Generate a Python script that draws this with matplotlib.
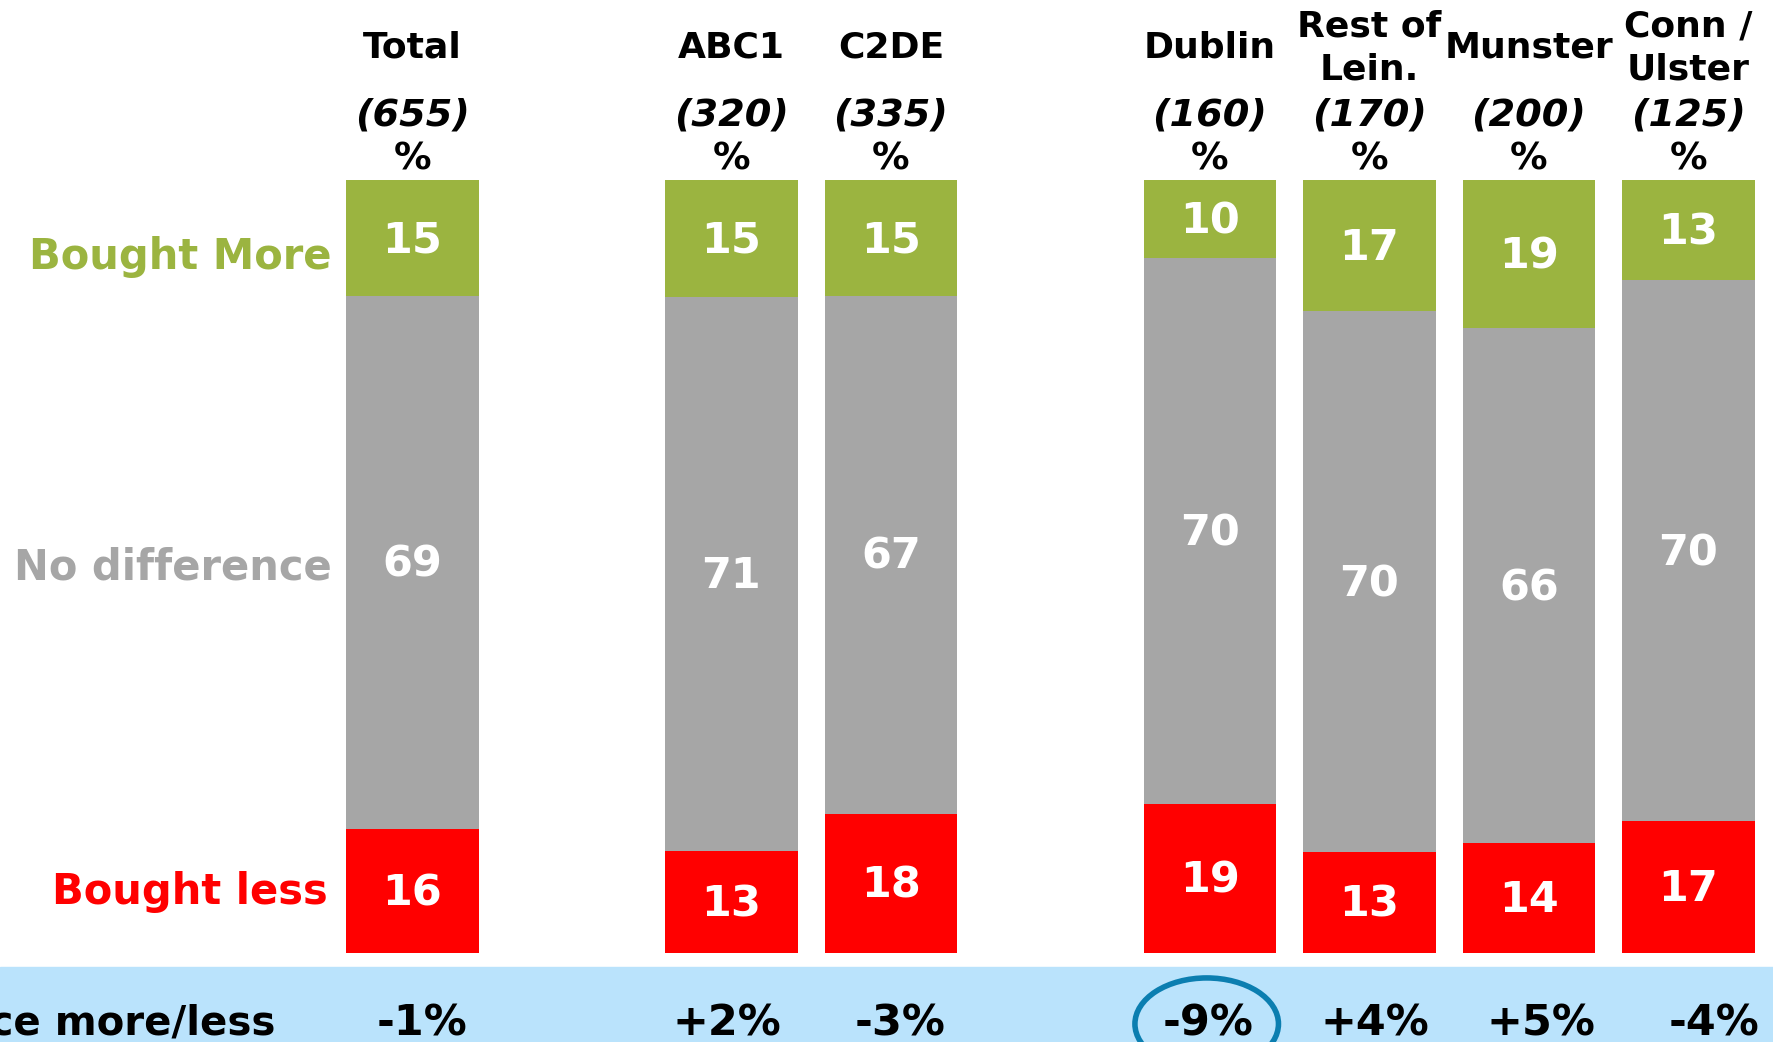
import matplotlib.pyplot as plt
from matplotlib.patches import Ellipse, Rectangle

# --- DATOS ---
grupos = ["Total", "ABC1", "C2DE", "Dublin", "Rest of\nLein.", "Munster", "Conn /\nUlster"]
bases = ["(655)", "(320)", "(335)", "(160)", "(170)", "(200)", "(125)"]
posiciones = [0, 2, 3, 5, 6, 7, 8]  # huecos entre bloques

compro_mas = [15, 15, 15, 10, 17, 19, 13]
sin_diferencia = [69, 71, 67, 70, 70, 66, 70]
compro_menos = [16, 13, 18, 19, 13, 14, 17]
neto = ["-1%", "+2%", "-3%", "-9%", "+4%", "+5%", "-4%"]
destacado = 3  # Dublin

# pequeños desplazamientos de la fila inferior (como en la diapositiva)
desplaz_neto = [0.057, -0.028, 0.057, -0.01, 0.035, 0.078, 0.163]

VERDE = "#9BB440"
GRIS = "#A6A6A6"
ROJO = "#FF0000"
AZUL_FRANJA = "#BAE3FC"
AZUL_CIRCULO = "#0B7EB0"

fig = plt.figure(figsize=(17.74, 10.42), dpi=100)
ax = fig.add_axes([0, 0, 1, 1])
ax.set_xlim(-2.586, 8.537)
ax.set_ylim(-11.57, 123.28)
ax.axis("off")

ancho = 0.83
for i, x in enumerate(posiciones):
    total = compro_mas[i] + sin_diferencia[i] + compro_menos[i]
    menos = compro_menos[i] * 100 / total
    igual = sin_diferencia[i] * 100 / total
    mas = compro_mas[i] * 100 / total
    ax.bar(x, menos, width=ancho, bottom=0, color=ROJO, edgecolor="none")
    ax.bar(x, igual, width=ancho, bottom=menos, color=GRIS, edgecolor="none")
    ax.bar(x, mas, width=ancho, bottom=menos + igual, color=VERDE, edgecolor="none")

    estilo = dict(ha="center", va="center", color="white", fontsize=31, fontweight="bold")
    ax.text(x, menos / 2 - 0.3, str(compro_menos[i]), **estilo)
    ax.text(x, menos + igual / 2 - 0.3, str(sin_diferencia[i]), **estilo)
    ax.text(x, menos + igual + mas / 2 - 0.3, str(compro_mas[i]), **estilo)

    # encabezados
    ax.text(x, 117.1, grupos[i], ha="center", va="center", fontsize=26,
            fontweight="bold", linespacing=1.35)
    ax.text(x, 108.3, bases[i], ha="center", va="center", fontsize=27.5,
            fontweight="bold", style="italic")
    ax.text(x, 102.6, "%", ha="center", va="center", fontsize=27, fontweight="bold")

# etiquetas a la izquierda
ax.text(-0.507, 90.0, "Bought More", ha="right", va="center", fontsize=30,
        fontweight="bold", color=VERDE)
ax.text(-0.507, 49.9, "No difference", ha="right", va="center", fontsize=30,
        fontweight="bold", color=GRIS)
ax.text(-0.53, 7.9, "Bought less", ha="right", va="center", fontsize=30,
        fontweight="bold", color=ROJO)

# franja inferior con la diferencia neta
ax.add_patch(Rectangle((-2.586, -11.57), 11.2, 9.65, color=AZUL_FRANJA, zorder=0))
ax.text(-0.862, -9.23, "Difference more/less", ha="right", va="center",
        fontsize=29, fontweight="bold")
for i, x in enumerate(posiciones):
    ax.text(x + desplaz_neto[i], -9.23, neto[i], ha="center", va="center",
            fontsize=31, fontweight="bold")

ax.add_patch(Ellipse((posiciones[destacado] - 0.02, -9.23), 0.9, 11.9, fill=False,
                     edgecolor=AZUL_CIRCULO, linewidth=4))

fig.savefig("out.png", dpi=100)
